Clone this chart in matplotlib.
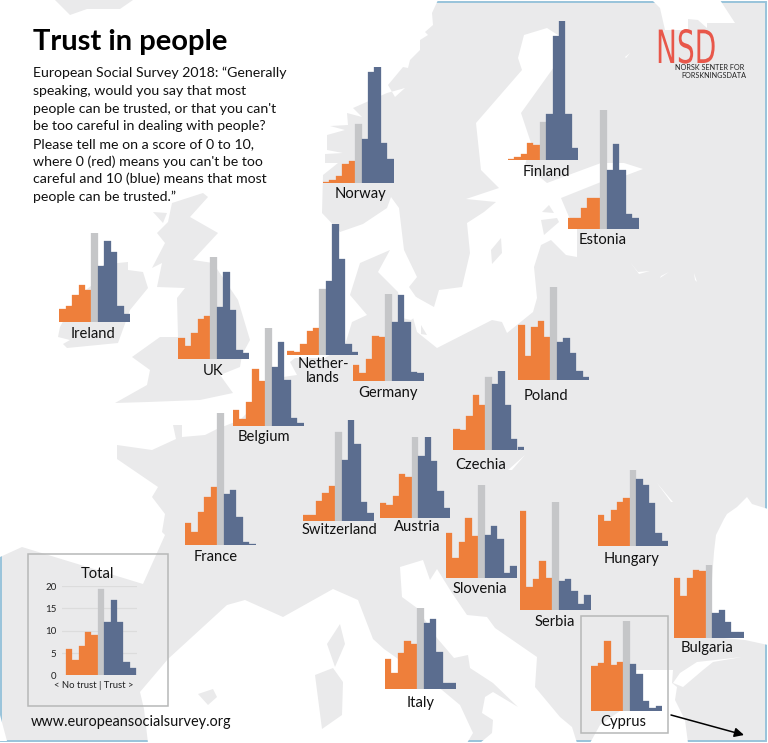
import matplotlib
matplotlib.use('Agg')
import matplotlib.pyplot as plt
from matplotlib.patches import Polygon, Rectangle
from matplotlib.patheffects import AbstractPathEffect
from matplotlib.transforms import Affine2D

# share of respondents (%) on scores 0..10
total = [5.9, 3.4, 6.6, 9.7, 9.0, 19.3, 11.9, 16.8, 11.9, 3.0, 1.6]
norway = [0.3, 0.7, 1.6, 4.3, 4.9, 13.2, 9.9, 24.9, 26.0, 8.9, 5.4]
finland = [0.3, 0.7, 1.3, 3.8, 3.5, 8.6, 10.4, 27.7, 31.2, 10.4, 2.8]
estonia = [2.3, 2.3, 4.6, 6.8, 6.8, 26.6, 13.1, 19.0, 13.1, 3.4, 2.3]
ireland = [2.8, 3.5, 6.0, 8.2, 7.2, 20.0, 12.5, 18.2, 15.7, 3.6, 1.8]
uk = [4.6, 2.8, 5.8, 8.8, 9.6, 22.8, 11.6, 19.5, 10.9, 1.9, 1.3]
netherlands = [0.9, 0.6, 2.5, 5.2, 6.0, 14.6, 16.5, 29.2, 21.3, 2.4, 0.6]
germany = [3.6, 1.8, 5.1, 10.1, 9.8, 19.6, 13.3, 19.4, 13.3, 2.1, 1.8]
belgium = [3.6, 1.6, 5.4, 12.8, 10.1, 21.9, 13.3, 18.7, 10.3, 1.8, 0.7]
france = [5.0, 2.9, 7.5, 10.7, 13.0, 29.7, 11.5, 12.4, 6.3, 0.7, 0.4]
switzerland = [1.3, 1.3, 4.3, 6.3, 7.8, 19.9, 13.5, 22.5, 17.2, 4.2, 1.8]
austria = [3.2, 2.8, 4.9, 9.8, 9.0, 18.1, 13.8, 18.1, 12.6, 6.0, 2.1]
czechia = [4.6, 4.3, 7.5, 12.3, 9.9, 16.2, 14.6, 17.5, 10.1, 2.5, 0.7]
poland = [12.3, 5.4, 11.9, 13.3, 9.6, 20.7, 8.4, 9.4, 6.1, 2.1, 0.7]
slovenia = [10.1, 4.6, 8.1, 13.6, 9.5, 20.9, 9.7, 11.6, 8.7, 1.2, 2.8]
italy = [6.8, 3.7, 8.2, 10.8, 10.2, 18.2, 14.9, 15.7, 8.4, 1.3, 1.3]
serbia = [22.2, 5.2, 7.0, 11.0, 7.2, 24.3, 6.6, 7.1, 4.3, 1.3, 3.4]
hungary = [6.9, 5.6, 8.0, 9.9, 10.7, 17.0, 15.0, 13.7, 9.7, 3.0, 1.1]
bulgaria = [13.3, 9.3, 13.4, 15.1, 14.9, 16.3, 5.5, 6.1, 3.5, 1.2, 1.2]
cyprus = [9.9, 10.7, 15.5, 10.2, 11.0, 20.0, 10.4, 8.2, 2.2, 0.6, 1.0]

title = 'Trust in people'
intro_lines = [
    'European Social Survey 2018: “Generally',
    'speaking, would you say that most',
    "people can be trusted, or that you can't",
    'be too careful in dealing with people?',
    'Please tell me on a score of 0 to 10,',
    "where 0 (red) means you can't be too",
    'careful and 10 (blue) means that most',
    'people can be trusted.”',
]
total_ticks = [0, 5, 10, 15, 20]

WIDTH, HEIGHT = 768, 743
BAR_PX = 6.42
UNIT_PX = 4.47
ORANGE, GREY, BLUE = '#ee7f3b', '#c5c6c8', '#5b6d8f'
LAND = '#eaeaeb'
FRAME = '#b7b8b8'
INK = '#111111'
FONT = 'Lato'

# name, left edge px, baseline px, label x, label y
panels = [
    (norway, 323.0, 183.0, 'Norway', 360, 194),
    (finland, 507.7, 160.3, 'Finland', 546, 172),
    (estonia, 568.0, 228.7, 'Estonia', 603, 240),
    (ireland, 59.3, 322.0, 'Ireland', 93, 334),
    (uk, 178.3, 358.7, 'UK', 213, 371),
    (netherlands, 287.3, 354.7, 'Nether-\nlands', 323, 371),
    (germany, 353.0, 381.3, 'Germany', 388, 393),
    (belgium, 233.0, 426.0, 'Belgium', 264, 437),
    (france, 185.0, 545.3, 'France', 216, 557),
    (switzerland, 303.0, 520.7, 'Switzerland', 339, 530),
    (austria, 379.7, 517.7, 'Austria', 417, 527),
    (czechia, 453.3, 449.7, 'Czechia', 481, 465),
    (poland, 518.3, 380.0, 'Poland', 546, 396),
    (slovenia, 446.0, 578.3, 'Slovenia', 480, 589),
    (italy, 385.0, 689.3, 'Italy', 421, 703),
    (serbia, 520.0, 610.3, 'Serbia', 555, 622),
    (hungary, 597.7, 546.0, 'Hungary', 632, 559),
    (bulgaria, 673.7, 637.7, 'Bulgaria', 707, 648),
    (cyprus, 591.3, 710.7, 'Cyprus', 623, 722),
]

# background map, traced in pixels: land is the base colour, seas are cut out in white
sea_west = [
    (0, 0), (438, 0), (432, 13), (433, 25), (425, 32), (428, 35), (420, 40), (420, 50), (410, 60),
    (408, 68), (403, 67), (388, 85), (395, 97), (405, 88), (387, 93), (353, 108), (362, 117),
    (347, 113), (348, 125), (330, 126), (345, 130), (327, 135), (327, 150), (343, 153), (325, 154),
    (325, 163), (338, 163), (323, 175), (322, 213), (340, 232), (363, 224), (387, 208), (391, 197),
    (399, 208), (404, 250), (417, 277), (409, 287), (416, 297), (430, 307), (411, 320), (402, 318),
    (398, 292), (378, 272), (390, 250), (360, 263), (350, 295), (367, 315), (352, 322), (345, 345),
    (325, 358), (295, 358), (290, 362), (297, 375), (283, 377), (240, 420), (217, 429), (205, 435),
    (182, 437), (182, 425), (173, 425), (176, 439), (152, 450), (117, 445), (117, 459), (158, 487),
    (152, 497), (165, 514), (162, 532), (165, 535), (143, 584), (22, 547), (0, 557),
]
sea_baltic = [
    (524, 35), (547, 28), (561, 37), (554, 67), (521, 113), (531, 143), (525, 165), (547, 183),
    (601, 163), (624, 163), (643, 169), (627, 175), (601, 182), (561, 198), (569, 217), (577, 228),
    (577, 257), (566, 255), (551, 240), (541, 245), (534, 267), (537, 298), (533, 312), (507, 333),
    (502, 322), (492, 320), (437, 348), (417, 332), (411, 310), (416, 297), (434, 307), (439, 290),
    (462, 287), (470, 253), (467, 223), (484, 212), (496, 202), (466, 199), (499, 188), (481, 170),
    (476, 123), (522, 70), (518, 58),
]
sea_med = [
    (144, 709), (140, 692), (168, 659), (227, 605), (245, 600), (283, 617), (333, 589), (358, 600),
    (373, 639), (384, 649), (442, 690), (460, 705), (473, 733), (467, 743), (148, 743),
]
sea_adriatic = [
    (400, 567), (423, 560), (430, 580), (437, 569), (452, 593), (467, 615), (487, 617), (495, 628),
    (537, 657), (535, 687), (560, 717), (572, 727), (577, 743), (480, 743), (492, 733), (493, 720),
    (482, 713), (485, 697), (493, 692), (518, 707), (493, 683), (470, 668), (468, 655), (454, 658),
    (437, 638), (417, 608), (402, 597),
]
sea_aegean = [
    (632, 670), (673, 670), (672, 683), (677, 687), (675, 700), (685, 720), (688, 743), (590, 743),
    (600, 725), (620, 711),
]
sea_marmara = [(680, 673), (697, 662), (742, 657), (713, 662), (703, 670), (683, 687), (673, 683)]
sea_black = [
    (768, 509), (752, 504), (747, 497), (737, 507), (727, 514), (724, 519), (716, 535), (714, 552),
    (712, 580), (712, 637), (745, 640), (768, 645),
]
sea_north = [
    (652, 0), (720, 0), (735, 23), (707, 23), (707, 28), (698, 20), (688, 19), (688, 30), (665, 30),
    (660, 8),
]
slivers = [
    [(657, 483), (673, 502), (671, 502)],
    [(630, 53), (625, 57), (626, 58)],
    [(630, 262), (638, 272), (650, 271), (639, 274)],
    [(660, 278), (669, 272), (661, 276)],
    [(694, 273), (697, 282), (695, 280)],
    [(525, 455), (508, 470), (512, 470)],
    [(0, 715), (7, 741), (0, 741)],
]
land_islands = [
    # Iceland edge
    [(55, 0), (70, 15), (87, 9), (120, 9), (133, 0)],
    # Great Britain
    [(157, 233), (168, 222), (172, 203), (203, 193), (208, 197), (190, 217), (218, 233), (193, 260),
     (213, 263), (238, 300), (250, 340), (242, 355), (240, 367), (220, 375), (233, 393), (200, 400),
     (148, 402), (115, 403), (147, 385), (150, 370), (132, 357), (160, 337), (178, 337), (177, 298),
     (185, 288), (157, 287), (162, 263), (152, 268), (165, 243)],
    [(153, 212), (167, 213), (163, 223)],
    # Ireland
    [(103, 265), (118, 263), (128, 262), (128, 270), (143, 272), (148, 288), (130, 310), (118, 343),
     (67, 348), (63, 344), (70, 340), (58, 337), (60, 327), (73, 303), (83, 292), (103, 277)],
    # Baltic islands
    [(501, 238), (502, 253), (492, 264), (491, 250)],
    [(549, 205), (554, 213), (542, 212)],
    [(541, 220), (557, 218), (559, 222), (544, 235)],
    [(421, 325), (427, 335), (421, 334)],
    # Balearics, Corsica, Sardinia
    [(198, 694), (213, 689), (217, 697), (208, 705)],
    [(340, 624), (345, 644), (335, 667), (327, 644)],
    [(333, 668), (343, 682), (342, 715), (322, 729), (315, 675)],
]


class StretchGlyphs(AbstractPathEffect):
    """Scale glyphs around the text origin and nudge them, the logo lettering is tall and narrow."""

    def __init__(self, sx, sy, drop_px):
        super().__init__()
        self.sx, self.sy, self.drop_px = sx, sy, drop_px

    def draw_path(self, renderer, gc, tpath, affine, rgbFace=None):
        stretched = Affine2D().scale(self.sx, self.sy) + affine + Affine2D().translate(0, -self.drop_px)
        renderer.draw_path(gc, tpath, stretched, rgbFace)


def px_box(left, bottom, width, height):
    return [left / WIDTH, 1 - bottom / HEIGHT, width / WIDTH, height / HEIGHT]


def draw_bars(values, left, base, extra_left=0.0, extra_right=0.0):
    """One histogram in its own transparent axes; grey bar is score 5."""
    span = 11 * BAR_PX + extra_left + extra_right
    top = max(max(values), 20 if extra_left else 0)
    ax = fig.add_axes(px_box(left - extra_left, base, span, top * UNIT_PX))
    ax.patch.set_alpha(0)
    colors = [ORANGE] * 5 + [GREY] + [BLUE] * 5
    ax.bar(range(11), values, width=1.0, color=colors, edgecolor=colors, linewidth=0.2, zorder=3)
    ax.set_xlim(-0.5 - extra_left / BAR_PX, 10.5 + extra_right / BAR_PX)
    ax.set_ylim(0, top)
    ax.set_xticks([])
    ax.set_yticks([])
    for side in ax.spines.values():
        side.set_visible(False)
    return ax


fig = plt.figure(figsize=(WIDTH / 100, HEIGHT / 100), dpi=100, facecolor='white')
bg = fig.add_axes([0, 0, 1, 1])
bg.set_xlim(0, WIDTH)
bg.set_ylim(HEIGHT, 0)
bg.axis('off')
bg.add_patch(Rectangle((1, 1.5), 765, 739.5, facecolor=LAND, edgecolor='#98c3da', linewidth=1.4, zorder=0))

frame_clip = Rectangle((2, 2.5), 763, 737.5, transform=bg.transData)
for sea in [sea_west, sea_baltic, sea_med, sea_adriatic, sea_aegean, sea_marmara, sea_black, sea_north] + slivers:
    bg.add_patch(Polygon(sea, facecolor='white', edgecolor='none', zorder=1, clip_path=frame_clip))
for island in land_islands:
    bg.add_patch(Polygon(island, facecolor=LAND, edgecolor='none', zorder=2, clip_path=frame_clip))

bg.text(33, 50, title, fontsize=21, fontweight='bold', family=FONT, color='black', va='baseline', zorder=5)
for i, line in enumerate(intro_lines):
    bg.text(33, 77.3 + i * 17.67, line, fontsize=10.15, family=FONT, color=INK, va='baseline', zorder=5)

for values, left, base, label, label_x, label_y in panels:
    draw_bars(values, left, base)
    bg.text(label_x, label_y, label, fontsize=10.6, family=FONT, color=INK, ha='center', va='center',
            linespacing=1.05, zorder=5)

# Total panel with its own scale
ax_total = draw_bars(total, 65.7, 675.3, extra_left=3.7, extra_right=0.7)
ax_total.set_yticks(total_ticks)
ax_total.set_yticklabels(total_ticks, fontsize=7, family=FONT, color='#222222')
ax_total.tick_params(axis='y', length=0, pad=4)
ax_total.yaxis.grid(True, color='#dcdcdc', linewidth=0.9, zorder=0)
ax_total.set_axisbelow(True)
ax_total.set_ylim(0, 20.05)
bg.text(97, 574, 'Total', fontsize=10.6, family=FONT, color=INK, ha='center', va='center', zorder=5)
bg.text(94, 686, '< No trust | Trust >', fontsize=6.8, family=FONT, color='#222222', ha='center', va='center', zorder=5)
bg.text(31, 722, 'www.europeansocialsurvey.org', fontsize=10.45, family=FONT, color=INK, ha='left', va='center', zorder=5)

bg.add_patch(Rectangle((28.3, 554), 139.4, 151.7, fill=False, edgecolor=FRAME, linewidth=1.1, zorder=4))
bg.add_patch(Rectangle((581.3, 615.7), 87, 117.6, fill=False, edgecolor=FRAME, linewidth=1.1, zorder=4))
bg.annotate('', xy=(744, 735), xytext=(671, 715), zorder=5,
            arrowprops=dict(arrowstyle='-|>', color='black', lw=1.1, mutation_scale=14, shrinkA=0, shrinkB=0))

# NSD logo, text sits higher so its box clears the small caption, glyphs are dropped back down
logo = bg.text(656, 54, 'NSD', fontsize=24, family='Liberation Sans Narrow', color='#e8574a', va='baseline', zorder=5)
logo.set_path_effects([StretchGlyphs(0.84, 1.375, 9)])
bg.text(744, 68, 'NORSK SENTER FOR', fontsize=5.2, family=FONT, color='#222222', ha='right', va='center', zorder=5)
bg.text(746, 76, 'FORSKNINGSDATA', fontsize=5.2, family=FONT, color='#222222', ha='right', va='center', zorder=5)

fig.savefig('out.png', dpi=100)
